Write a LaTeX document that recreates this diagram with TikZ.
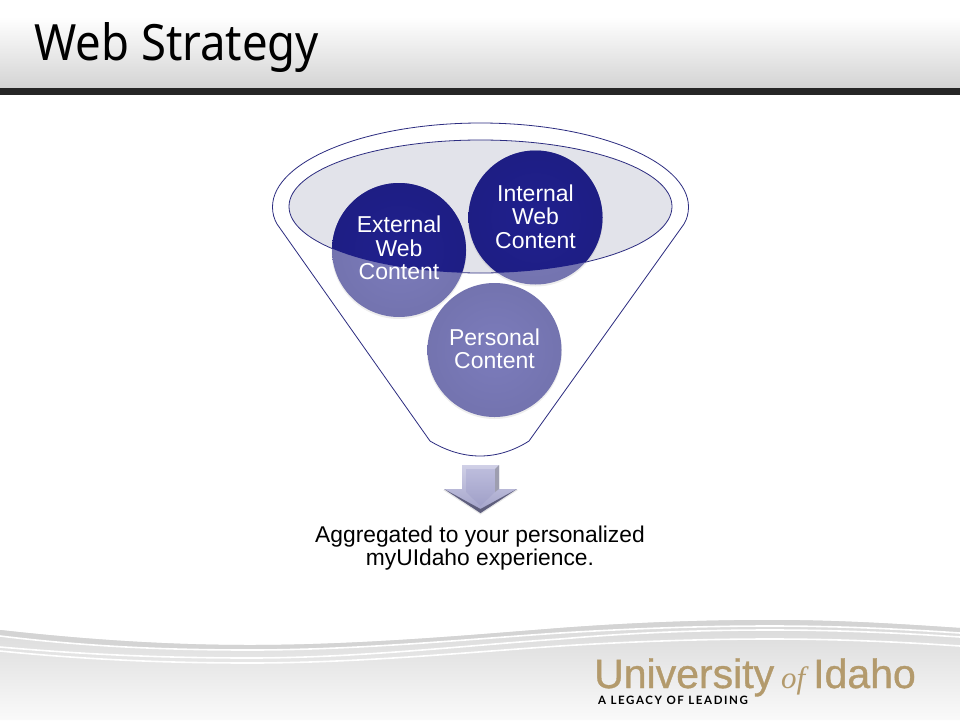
\documentclass[tikz,border=0pt]{standalone}
\usepackage{fontspec}
\setmainfont{Liberation Sans}
\newfontfamily\titlefont[FakeStretch=.91]{Noto Sans}
\newfontfamily\logofont[FakeBold=.8]{Liberation Sans}
\newfontfamily\offont{Liberation Serif}
\newfontfamily\tagfont[LetterSpace=14]{Lato}
\definecolor{navyline}{HTML}{2C2C80}
\definecolor{idahotan}{HTML}{B39A6C}
\definecolor{discblue}{HTML}{7C7CBC}
\definecolor{discnavy}{HTML}{20208E}
\definecolor{ellipsegrey}{HTML}{E2E3EA}
\definecolor{arrowtop}{HTML}{BCBCDC}
\definecolor{arrowbot}{HTML}{A0A0C8}
\definecolor{arrowdark}{HTML}{5E5E7C}
\tikzset{
  webdisc/.style={circle, minimum size=134, inner sep=0, inner color=#1, outer color=#1!93!black},
  disclabel/.style={text=white, align=center, font=\fontsize{23}{23.5}\selectfont},
  logoword/.style={anchor=base west, inner sep=0, text=idahotan, font=\logofont\fontsize{41}{41}\selectfont},
  swoosh/.style={white, line width=1.6}
}
\begin{document}
\begin{tikzpicture}[x=1pt,y=-1pt]
\useasboundingbox (0,0) rectangle (960,720);
\fill [white] (0,0) rectangle (960,720);

% header
\shade [top color=white, bottom color=black!17] (0,17) rectangle (960,88);
\fill [black!85] (0,88) rectangle (960,95);
\node (title) [anchor=base west, inner sep=0, font=\titlefont\fontsize{50}{56}\selectfont] at (34,60) {Web Strategy};

% footer
\shade [top color=black!15, bottom color=black!2] (0,630) .. controls (90,640) and (170,645) .. (250,645) .. controls (360,645) and (470,635) .. (560,628) .. controls (640,622) and (710,620) .. (770,620) .. controls (840,620) and (900,624) .. (960,628) -- (960,720) -- (0,720) -- cycle;
\fill [black!17] (0,630) .. controls (90,640) and (170,645) .. (250,645) .. controls (360,645) and (470,635) .. (560,628) .. controls (640,622) and (710,620) .. (770,620) .. controls (840,620) and (900,624) .. (960,628) -- (960,633) .. controls (900,629) and (840,626) .. (770,626) .. controls (710,626) and (640,628) .. (560,633) .. controls (470,639) and (360,650) .. (250,650) .. controls (170,650) and (90,647) .. (0,636) -- cycle;
\foreach \a/\b/\c/\d in {636/650/633/626,647/658/639/630,651/663/646/639} {
    \draw [swoosh] (0,\a) .. controls (90,\b-3) and (170,\b) .. (250,\b) .. controls (360,\b) and (470,\c+6) .. (560,\c) .. controls (640,\d+2) and (710,\d) .. (770,\d) .. controls (840,\d) and (900,\d+3) .. (960,\d+7);
}
\node (university) [logoword] at (594,688) {University};
\node (of) [logoword, font=\offont\itshape\fontsize{31}{31}\selectfont] at (781,688) {of};
\node (idaho) [logoword] at (813,688) {Idaho};
\node (legacy) [anchor=base west, inner sep=0, font=\tagfont\bfseries\fontsize{11.5}{12}\selectfont] at (598,704) {A LEGACY OF LEADING};

% funnel
\draw [navyline, line width=.8] (430,441) -- (277,224) .. controls (274,219) and (272.5,213) .. (272.5,207) .. controls (272.5,161) and (366,123) .. (480.5,123) .. controls (595,123) and (688.5,161) .. (688.5,207) .. controls (688.5,213) and (687,219) .. (684,224) -- (529,441) .. controls (515,450) and (498,456) .. (480,456) .. controls (462,456) and (445,450) .. (430,441) -- cycle;
\draw [navyline, line width=.8, fill=ellipsegrey] (480.5,206.5) ellipse [x radius=191.5, y radius=66.5];

% discs, dark where the ellipse covers them
\foreach \x/\y in {399/250,535.5/217.5,494.5/350} {
    \fill [black, opacity=.07] (\x,\y+1.5) circle (67.5);
}
\node (extweb) [webdisc=discblue] at (399,250) {};
\node (intweb) [webdisc=discblue] at (535.5,217.5) {};
\node (personal) [webdisc=discblue] at (494.5,350) {};
\begin{scope}
\clip (480.5,206.5) ellipse [x radius=191.5, y radius=66.5];
\node (extdark) [webdisc=discnavy] at (extweb) {};
\node (intdark) [webdisc=discnavy] at (intweb) {};
\end{scope}
\node (extlabel) [disclabel] at (399,248) {External\\Web\\Content};
\node (intlabel) [disclabel] at (535.5,216.5) {Internal\\Web\\Content};
\node (perlabel) [disclabel] at (494.5,349) {Personal\\Content};

% arrow
\fill [black, opacity=.1] (462,466) -- (499,466) -- (499,490) -- (518,490) -- (480.5,514.5) -- (443,490) -- (462,490) -- cycle;
\shade [top color=arrowtop!70!white, bottom color=arrowbot] (462,465) -- (499,465) -- (499,489) -- (517,489) -- (480.5,513) -- (444,489) -- (462,489) -- cycle;
\shade [top color=arrowtop, bottom color=arrowbot] (466,469) -- (495,469) -- (495,492) -- (480.5,506) -- (466,492) -- cycle;
\fill [arrowdark] (444,489) -- (480.5,513) -- (517,489) -- (480.5,509) -- cycle;
\fill [arrowdark!60!white] (499,465) -- (499,489) -- (495,492) -- (495,469) -- cycle;

% caption
\node (caption) [align=center, font=\fontsize{22.8}{23}\selectfont] at (480,548) {Aggregated to your personalized\\myUIdaho experience.};

\end{tikzpicture}
\end{document}
